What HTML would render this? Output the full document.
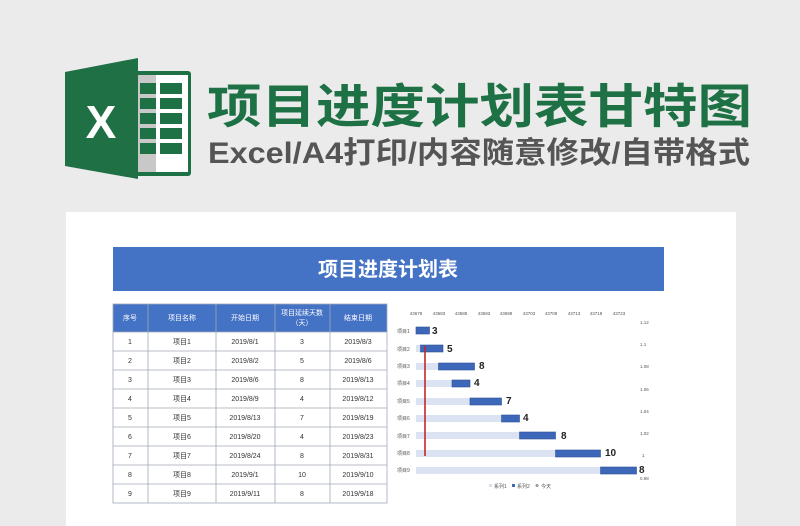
<!DOCTYPE html>
<html><head><meta charset="utf-8"><style>
html,body{margin:0;padding:0;background:#ebebeb;}
svg{display:block}
text{font-family:"Liberation Sans","Noto Sans CJK SC",sans-serif}
</style></head><body>
<svg width="800" height="526" viewBox="0 0 800 526" xmlns="http://www.w3.org/2000/svg">
<rect width="800" height="526" fill="#ebebeb"/>
<!-- excel icon -->
<rect x="134" y="71" width="57" height="105" rx="3" fill="#1e7145"/>
<rect x="138" y="75" width="50" height="97" fill="#fff"/>
<rect x="138" y="75" width="18" height="97" fill="#c8c8c8"/>
<g fill="#1e7145">
<rect x="140" y="83" width="16" height="11"/><rect x="160" y="83" width="22" height="11"/>
<rect x="140" y="98" width="16" height="11"/><rect x="160" y="98" width="22" height="11"/>
<rect x="140" y="113" width="16" height="11"/><rect x="160" y="113" width="22" height="11"/>
<rect x="140" y="128" width="16" height="11"/><rect x="160" y="128" width="22" height="11"/>
<rect x="140" y="143" width="16" height="11"/><rect x="160" y="143" width="22" height="11"/>
</g>
<polygon points="65,72 138,58 138,179 65,166" fill="#1f7044"/>
<text x="101" y="138" font-size="46" font-weight="bold" fill="#fff" text-anchor="middle">X</text>
<text x="207" y="123" font-size="47" font-weight="bold" fill="#1e7145" textLength="545" lengthAdjust="spacingAndGlyphs" font-family="Noto Sans CJK SC">项目进度计划表甘特图</text>
<text x="208" y="163" font-size="30" font-weight="bold" fill="#555" textLength="542" lengthAdjust="spacingAndGlyphs">Excel/A4打印/内容随意修改/自带格式</text>
<!-- card -->
<rect x="66" y="212" width="670" height="320" fill="#fff"/>
<rect x="113" y="247" width="551" height="44" fill="#4472c4"/>
<text x="388" y="276" font-size="20" font-weight="bold" fill="#fff" text-anchor="middle">项目进度计划表</text>
<!-- table -->
<rect x="113" y="304" width="274" height="28" fill="#4472c4"/>
<g font-size="7" fill="#fff" text-anchor="middle">
<text x="130" y="320">序号</text><text x="182" y="320">项目名称</text><text x="245" y="320">开始日期</text>
<text x="302" y="315">项目延续天数</text><text x="302" y="325">（天）</text><text x="358" y="320">结束日期</text>
</g>
<g stroke="#a0a8b8" stroke-width="0.8" fill="none">
<rect x="113" y="304" width="274" height="199"/>
<line x1="148" y1="304" x2="148" y2="503"/><line x1="216" y1="304" x2="216" y2="503"/>
<line x1="275" y1="304" x2="275" y2="503"/><line x1="330" y1="304" x2="330" y2="503"/>
<line x1="113" y1="332" x2="387" y2="332"/><line x1="113" y1="351" x2="387" y2="351"/>
<line x1="113" y1="370" x2="387" y2="370"/><line x1="113" y1="389" x2="387" y2="389"/>
<line x1="113" y1="408" x2="387" y2="408"/><line x1="113" y1="427" x2="387" y2="427"/>
<line x1="113" y1="446" x2="387" y2="446"/><line x1="113" y1="465" x2="387" y2="465"/>
<line x1="113" y1="484" x2="387" y2="484"/>
</g>
<g font-size="7" fill="#333" text-anchor="middle">
<text x="130" y="344">1</text><text x="182" y="344">项目1</text><text x="245" y="344">2019/8/1</text><text x="302" y="344">3</text><text x="358" y="344">2019/8/3</text>
<text x="130" y="363">2</text><text x="182" y="363">项目2</text><text x="245" y="363">2019/8/2</text><text x="302" y="363">5</text><text x="358" y="363">2019/8/6</text>
<text x="130" y="382">3</text><text x="182" y="382">项目3</text><text x="245" y="382">2019/8/6</text><text x="302" y="382">8</text><text x="358" y="382">2019/8/13</text>
<text x="130" y="401">4</text><text x="182" y="401">项目4</text><text x="245" y="401">2019/8/9</text><text x="302" y="401">4</text><text x="358" y="401">2019/8/12</text>
<text x="130" y="420">5</text><text x="182" y="420">项目5</text><text x="245" y="420">2019/8/13</text><text x="302" y="420">7</text><text x="358" y="420">2019/8/19</text>
<text x="130" y="439">6</text><text x="182" y="439">项目6</text><text x="245" y="439">2019/8/20</text><text x="302" y="439">4</text><text x="358" y="439">2019/8/23</text>
<text x="130" y="458">7</text><text x="182" y="458">项目7</text><text x="245" y="458">2019/8/24</text><text x="302" y="458">8</text><text x="358" y="458">2019/8/31</text>
<text x="130" y="477">8</text><text x="182" y="477">项目8</text><text x="245" y="477">2019/9/1</text><text x="302" y="477">10</text><text x="358" y="477">2019/9/10</text>
<text x="130" y="496">9</text><text x="182" y="496">项目9</text><text x="245" y="496">2019/9/11</text><text x="302" y="496">8</text><text x="358" y="496">2019/9/18</text>
</g>
<!-- chart -->
<g font-size="4.5" fill="#555" text-anchor="middle">
<text x="416" y="315">43678</text><text x="439" y="315">43683</text><text x="461" y="315">43688</text>
<text x="484" y="315">43693</text><text x="506" y="315">43698</text><text x="529" y="315">43703</text>
<text x="551" y="315">43708</text><text x="574" y="315">43713</text><text x="596" y="315">43718</text><text x="619" y="315">43723</text>
</g>
<g font-size="4.5" fill="#555">
<text x="640" y="324">1.12</text><text x="640" y="346">1.1</text><text x="640" y="368">1.08</text>
<text x="640" y="391">1.06</text><text x="640" y="413">1.04</text><text x="640" y="435">1.02</text>
<text x="642" y="457">1</text><text x="640" y="480">0.98</text>
</g>
<g font-size="5" fill="#555">
<text x="397" y="333">项目1</text><text x="397" y="351">项目2</text><text x="397" y="368">项目3</text>
<text x="397" y="385">项目4</text><text x="397" y="403">项目5</text><text x="397" y="420">项目6</text>
<text x="397" y="438">项目7</text><text x="397" y="455">项目8</text><text x="397" y="472">项目9</text>
</g>
<g fill="#dbe2f1">
<rect x="416" y="345" width="4.5" height="7"/>
<rect x="416" y="363" width="22.5" height="7"/>
<rect x="416" y="380" width="36" height="7"/>
<rect x="416" y="398" width="54" height="7"/>
<rect x="416" y="415" width="85" height="7"/>
<rect x="416" y="432" width="103" height="7"/>
<rect x="416" y="450" width="139" height="7"/>
<rect x="416" y="467" width="184" height="7"/>
</g>
<g fill="#3d67b8" stroke="#2c4f94" stroke-width="0.6">
<rect x="416" y="327" width="13.5" height="7"/>
<rect x="420.5" y="345" width="22.5" height="7"/>
<rect x="438.5" y="363" width="36" height="7"/>
<rect x="452" y="380" width="18" height="7"/>
<rect x="470" y="398" width="31.5" height="7"/>
<rect x="501.5" y="415" width="18" height="7"/>
<rect x="519.5" y="432" width="36" height="7"/>
<rect x="555.5" y="450" width="45" height="7"/>
<rect x="600.5" y="467" width="36" height="7"/>
</g>
<line x1="425" y1="346" x2="425" y2="456" stroke="#c0282c" stroke-width="1.6"/>
<g font-size="10" font-weight="bold" fill="#222" font-family="Liberation Serif">
<text x="432" y="334">3</text><text x="447" y="352">5</text><text x="479" y="369">8</text>
<text x="474" y="386">4</text><text x="506" y="404">7</text><text x="523" y="421">4</text>
<text x="561" y="439">8</text><text x="605" y="456">10</text><text x="639" y="473">8</text>
</g>
<g font-size="5" fill="#555">
<rect x="489" y="484" width="3" height="3" fill="#dbe2f1"/><text x="494" y="488">系列1</text>
<rect x="512" y="484" width="3" height="3" fill="#3d67b8"/><text x="517" y="488">系列2</text>
<circle cx="537" cy="485.5" r="1.5" fill="#999"/><text x="541" y="488">今天</text>
</g>
</svg>
</body></html>
